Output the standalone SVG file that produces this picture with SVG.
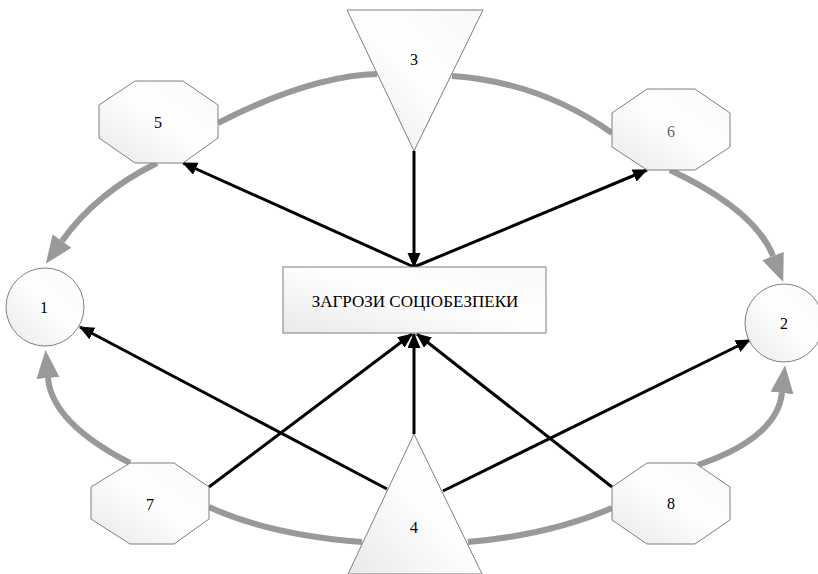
<svg xmlns="http://www.w3.org/2000/svg" width="818" height="574" viewBox="0 0 818 574">
<style>
.node{fill:url(#g);stroke:#7f7f7f;stroke-width:1}
.lbl{font-size:16px;fill:#000;text-anchor:middle}
.cyc{fill:none;stroke:#999;stroke-width:6}
.blk{fill:none;stroke:#000;stroke-width:3;marker-end:url(#ba)}
</style>
<defs>
<linearGradient id="g" x1="0" y1="1" x2="1" y2="0">
<stop offset="0" stop-color="#e9e9e9"/>
<stop offset="0.55" stop-color="#ffffff"/>
<stop offset="1" stop-color="#f8f8f8"/>
</linearGradient>
<marker id="ga" markerUnits="userSpaceOnUse" markerWidth="30" markerHeight="24" refX="0" refY="11.5" orient="auto">
<path d="M0,0 L28,11.5 L0,23 z" fill="#999"/>
</marker>
<marker id="ba" markerUnits="userSpaceOnUse" markerWidth="16" markerHeight="14" refX="14" refY="6.5" orient="auto">
<path d="M0,0 L15,6.5 L0,13 z" fill="#000"/>
</marker>
</defs>
<rect width="818" height="574" fill="#fff"/>
<g id="connectors">
<path class="cyc" d="M377,74 Q310,76 218,123"/>
<path class="cyc" d="M452,76 Q540,82 612,133"/>
<path class="cyc" d="M157,163 Q96,193 62,241" marker-end="url(#ga)"/>
<path class="cyc" d="M670,170 Q755,210 773,256" marker-end="url(#ga)"/>
<path class="cyc" d="M130,463 Q52,423 48,378" marker-end="url(#ga)"/>
<path class="cyc" d="M698,465 Q777,438 782,393" marker-end="url(#ga)"/>
<path class="cyc" d="M209,507 Q270,535 362,542"/>
<path class="cyc" d="M468,542 Q550,535 612,508"/>
<line class="blk" x1="414" y1="151" x2="414" y2="267"/>
<line class="blk" x1="414" y1="267" x2="183" y2="163"/>
<line class="blk" x1="414" y1="267" x2="647" y2="170"/>
<line class="blk" x1="387" y1="489" x2="80" y2="327"/>
<line class="blk" x1="209" y1="487" x2="412" y2="334"/>
<line class="blk" x1="414" y1="434" x2="414" y2="334"/>
<line class="blk" x1="443" y1="491" x2="750" y2="340"/>
<line class="blk" x1="612" y1="487" x2="417" y2="334"/>
</g>
<g font-family="'Liberation Serif', 'DejaVu Serif', serif">
<g id="node3">
<polygon class="node" points="347,10 483,10 414,151"/>
<text class="lbl" x="414" y="65">3</text>
</g>
<g id="node4">
<polygon class="node" points="414,434 482,574 348,574"/>
<text class="lbl" x="414" y="533">4</text>
</g>
<g id="node5">
<polygon class="node" points="135,81 183,81 218,105 218,138 183,163 135,163 99,138 99,105"/>
<text class="lbl" x="158" y="128">5</text>
</g>
<g id="node6">
<polygon class="node" points="647,89 695,89 730,113 730,147 695,170 647,170 612,147 612,113"/>
<text class="lbl" x="671" y="137" style="fill:#666">6</text>
</g>
<g id="node7">
<polygon class="node" points="130,463 174,463 209,487 209,519 174,544 130,544 91,519 91,487"/>
<text class="lbl" x="150" y="510">7</text>
</g>
<g id="node8">
<polygon class="node" points="647,463 695,463 730,487 730,520 695,544 647,544 612,520 612,487"/>
<text class="lbl" x="671" y="509">8</text>
</g>
<g id="node1">
<circle class="node" cx="45" cy="307" r="39"/>
<text class="lbl" x="44" y="313">1</text>
</g>
<g id="node2">
<circle class="node" cx="784" cy="323" r="39"/>
<text class="lbl" x="784" y="329">2</text>
</g>
<g id="center">
<rect class="node" x="283" y="267" width="263" height="66"/>
<text class="lbl" x="415" y="307" style="font-size:17px">ЗАГРОЗИ СОЦІОБЕЗПЕКИ</text>
</g>
</g>
</svg>
